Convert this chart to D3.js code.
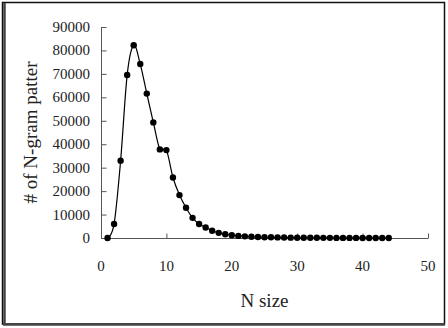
<!DOCTYPE html>
<html>
<head>
<meta charset="utf-8">
<script src="https://cdn.jsdelivr.net/npm/d3@7"></script>
<style>
  body { margin: 0; background: #fff; }
</style>
</head>
<body>
<div id="main"></div>
<script>
const ctx = {
    w: 448,
    h: 328,
    margin: { top: 27, right: 20, bottom: 90, left: 101 },
    AXIS_COLOR: "#555",
    FONT: "'Liberation Serif', 'DejaVu Serif', serif",
};

// n-gram size (x) and number of patterns (y)
const nSizes = d3.range(1, 45);
const patternCounts = [
    0, 6000, 33000, 69500, 82200, 74200, 61600, 49300, 37800, 37500,
    25800, 18300, 12900, 8600, 6000, 4500, 3100, 2200, 1600, 1200,
    900, 700, 550, 450, 350, 300, 250, 200, 150, 120,
    100, 90, 80, 70, 60, 50, 45, 40, 35, 30,
    25, 20, 15, 10
];
const xTicks = [0, 10, 20, 30, 40, 50];
const yTicks = [0, 10000, 20000, 30000, 40000, 50000, 60000, 70000, 80000, 90000];
const xTitle = "N size";
const yTitle = "# of N-gram patter";

function createViz() {
    let svgEl = d3.select("#main").append("svg")
        .attr("width", ctx.w)
        .attr("height", ctx.h)
        .attr("font-family", ctx.FONT);

    // frame around the whole chart
    svgEl.append("rect")
        .attr("x", 2.5).attr("y", 2.5)
        .attr("width", 442).attr("height", 321.5)
        .attr("fill", "none")
        .attr("stroke", "#111")
        .attr("stroke-width", 1.5);
    svgEl.append("line")
        .attr("x1", 4.5).attr("x2", 4.5).attr("y1", 3).attr("y2", 325)
        .attr("stroke", "#444").attr("stroke-width", 2.5);
    svgEl.append("line")
        .attr("x1", 3).attr("x2", 445).attr("y1", 324.5).attr("y2", 324.5)
        .attr("stroke", "#444").attr("stroke-width", 2.5);

    let m = ctx.margin;
    let x = d3.scaleLinear().domain([0, 50]).range([m.left, ctx.w - m.right]);
    let y = d3.scaleLinear().domain([0, 90000]).range([ctx.h - m.bottom, m.top]);

    // x axis, ticks pointing inward
    let xAxisG = svgEl.append("g")
        .attr("transform", `translate(0,${ctx.h - m.bottom + 0.5})`)
        .call(d3.axisTop(x).tickValues(xTicks).tickSize(5).tickFormat(""));
    xAxisG.select(".domain").attr("stroke", ctx.AXIS_COLOR).attr("d", `M${m.left},0H${ctx.w - m.right}`);
    xAxisG.selectAll(".tick line").attr("stroke", ctx.AXIS_COLOR);
    svgEl.append("g").selectAll("text")
        .data(xTicks)
        .enter()
        .append("text")
        .attr("x", (d) => x(d))
        .attr("y", ctx.h - m.bottom + 33)
        .attr("text-anchor", "middle")
        .attr("fill", "#222")
        .style("font-size", "15px")
        .text((d) => d);

    // y axis, ticks pointing inward
    let yAxisG = svgEl.append("g")
        .attr("transform", `translate(${m.left + 0.5},0)`)
        .call(d3.axisRight(y).tickValues(yTicks).tickSize(5).tickFormat(""));
    yAxisG.select(".domain").attr("stroke", ctx.AXIS_COLOR).attr("d", `M0,${m.top}V${ctx.h - m.bottom}`);
    yAxisG.selectAll(".tick line").attr("stroke", ctx.AXIS_COLOR);
    svgEl.append("g").selectAll("text")
        .data(yTicks)
        .enter()
        .append("text")
        .attr("x", m.left - 11)
        .attr("y", (d) => y(d) + 5)
        .attr("text-anchor", "end")
        .attr("fill", "#222")
        .style("font-size", "15px")
        .text((d) => d);

    // axis titles
    svgEl.append("text")
        .attr("x", (m.left + ctx.w - m.right) / 2)
        .attr("y", ctx.h - m.bottom + 69)
        .attr("text-anchor", "middle")
        .attr("fill", "#222")
        .style("font-size", "19px")
        .text(xTitle);
    svgEl.append("text")
        .attr("transform", `translate(37,${(m.top + ctx.h - m.bottom) / 2}) rotate(-90)`)
        .attr("text-anchor", "middle")
        .attr("fill", "#222")
        .style("font-size", "19px")
        .text(yTitle);

    // smoothed line + markers
    let points = nSizes.map((n, i) => ({ n: n, v: patternCounts[i] }));
    let line = d3.line()
        .x((d) => x(d.n))
        .y((d) => y(d.v))
        .curve(d3.curveCatmullRom.alpha(0));
    svgEl.append("path")
        .datum(points)
        .attr("d", line)
        .attr("fill", "none")
        .attr("stroke", "#000")
        .attr("stroke-width", 1.2);
    svgEl.append("g").selectAll("circle")
        .data(points)
        .enter()
        .append("circle")
        .attr("cx", (d) => x(d.n))
        .attr("cy", (d) => y(d.v))
        .attr("r", 3.2)
        .attr("fill", "#000");
};

createViz();
</script>
</body>
</html>
